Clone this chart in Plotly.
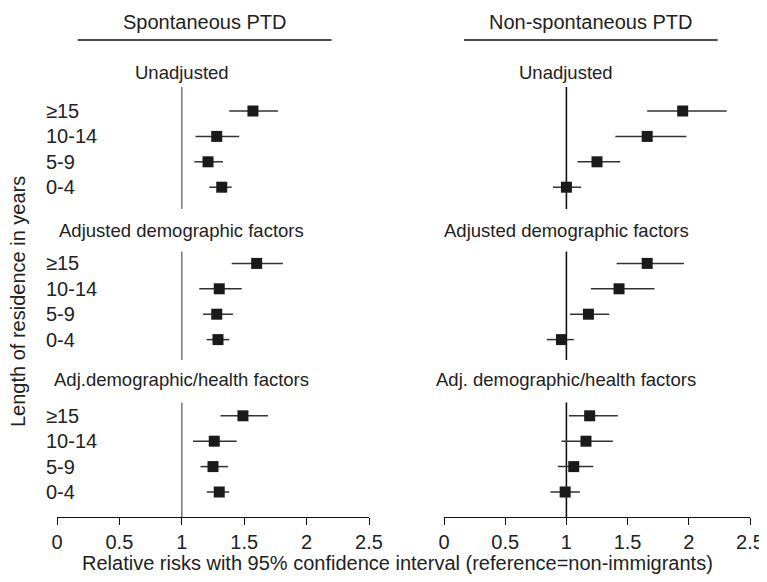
import plotly.graph_objects as go

# ---------------- data ----------------
row_labels = ["≥15", "10-14", "5-9", "0-4"]
column_titles = ["Spontaneous PTD", "Non-spontaneous PTD"]
panel_titles_left = ["Unadjusted", "Adjusted demographic factors", "Adj.demographic/health factors"]
panel_titles_right = ["Unadjusted", "Adjusted demographic factors", "Adj. demographic/health factors"]

spont_unadj_rr = [1.57, 1.28, 1.21, 1.32]
spont_unadj_lo = [1.38, 1.11, 1.10, 1.22]
spont_unadj_hi = [1.77, 1.46, 1.33, 1.40]

spont_demo_rr = [1.60, 1.30, 1.28, 1.29]
spont_demo_lo = [1.40, 1.14, 1.17, 1.20]
spont_demo_hi = [1.81, 1.48, 1.41, 1.38]

spont_health_rr = [1.49, 1.26, 1.25, 1.30]
spont_health_lo = [1.31, 1.09, 1.15, 1.20]
spont_health_hi = [1.69, 1.44, 1.37, 1.38]

nons_unadj_rr = [1.95, 1.66, 1.25, 1.00]
nons_unadj_lo = [1.66, 1.40, 1.09, 0.89]
nons_unadj_hi = [2.31, 1.98, 1.44, 1.12]

nons_demo_rr = [1.66, 1.43, 1.18, 0.96]
nons_demo_lo = [1.41, 1.20, 1.03, 0.84]
nons_demo_hi = [1.96, 1.72, 1.35, 1.06]

nons_health_rr = [1.19, 1.16, 1.06, 0.99]
nons_health_lo = [1.02, 0.96, 0.93, 0.87]
nons_health_hi = [1.42, 1.38, 1.22, 1.11]

x_ticks = [0, 0.5, 1, 1.5, 2, 2.5]
x_tick_text = ["0", "0.5", "1", "1.5", "2", "2.5"]
reference_value = 1

# ---------------- layout constants (screen pixel units) ----------------
OFF = 8                      # page body margin
W, H = 767 - OFF, 582 - OFF
PLOT_TOP = OFF
PLOT_BOTTOM = 517            # screen y of the x axis line
PLOT_H = PLOT_BOTTOM - PLOT_TOP
FONT = "Liberation Sans, Arial, Helvetica, sans-serif"
TXT = "#222222"
FS = 20
FS_PANEL = 18.5

def px(sx):
    return (sx - OFF) / W

def py(sy):
    return (PLOT_BOTTOM - sy) / PLOT_H

ROW0 = 111.0
ROW_STEP = 25.4
GROUP_ROWS = 6

def row_y(g, r):
    return ROW0 + ROW_STEP * (GROUP_ROWS * g + r)

left = {"groups": [(spont_unadj_rr, spont_unadj_lo, spont_unadj_hi),
                   (spont_demo_rr, spont_demo_lo, spont_demo_hi),
                   (spont_health_rr, spont_health_lo, spont_health_hi)],
        "xref": "x", "titles": panel_titles_left, "refcolor": "#808080"}
right = {"groups": [(nons_unadj_rr, nons_unadj_lo, nons_unadj_hi),
                    (nons_demo_rr, nons_demo_lo, nons_demo_hi),
                    (nons_health_rr, nons_health_lo, nons_health_hi)],
         "xref": "x2", "titles": panel_titles_right, "refcolor": "#111111"}

panel_title_y = [72, 230, 379]
ref_top = [87, 251.5, 402.5]
ref_bottom = [209, 360, PLOT_BOTTOM]

fig = go.Figure()
shapes = []
annotations = []

for col in (left, right):
    for g, (rr, lo, hi) in enumerate(col["groups"]):
        ys = [row_y(g, r) for r in range(len(rr))]
        fig.add_trace(go.Scatter(
            x=rr, y=ys, mode="markers", xaxis=col["xref"], yaxis="y",
            marker=dict(symbol="square", size=11, color="#1a1a1a", line=dict(width=0)),
            error_x=dict(type="data", symmetric=False,
                         array=[h - v for h, v in zip(hi, rr)],
                         arrayminus=[v - l for v, l in zip(rr, lo)],
                         color="#333333", thickness=1.5, width=0),
            showlegend=False, hoverinfo="skip"))
        shapes.append(dict(type="line", xref=col["xref"], yref="y",
                           x0=reference_value, x1=reference_value,
                           y0=ref_top[g], y1=ref_bottom[g],
                           line=dict(color=col["refcolor"], width=1.6), layer="below"))
        annotations.append(dict(text=col["titles"][g], xref=col["xref"], yref="paper",
                                x=reference_value, y=py(panel_title_y[g]), showarrow=False,
                                xanchor="center", yanchor="middle",
                                font=dict(family=FONT, size=FS_PANEL, color=TXT)))

# row labels (left side only)
for g in range(3):
    for r, lab in enumerate(row_labels):
        annotations.append(dict(text=lab, xref="paper", yref="paper", x=px(44), y=py(row_y(g, r)),
                                showarrow=False, xanchor="left", yanchor="middle",
                                font=dict(family=FONT, size=FS, color=TXT)))

# column titles with underline
col_specs = [("x", 1.18, 0.166, 2.2), ("x2", 1.197, 0.163, 2.236)]
for (xr, cx, ux0, ux1), t in zip(col_specs, column_titles):
    annotations.append(dict(text=t, xref=xr, yref="paper", x=cx, y=py(22), showarrow=False,
                            xanchor="center", yanchor="middle",
                            font=dict(family=FONT, size=FS, color=TXT)))
    shapes.append(dict(type="line", xref=xr, yref="y", x0=ux0, x1=ux1, y0=40, y1=40,
                       line=dict(color="#111111", width=1.5)))

# axis titles
annotations.append(dict(text="Relative risks with 95% confidence interval (reference=non-immigrants)",
                        xref="paper", yref="paper", x=px(397), y=py(563), showarrow=False,
                        xanchor="center", yanchor="middle",
                        font=dict(family=FONT, size=FS, color=TXT)))
annotations.append(dict(text="Length of residence in years", textangle=-90,
                        xref="paper", yref="paper", x=px(18), y=py(302), showarrow=False,
                        xanchor="center", yanchor="middle",
                        font=dict(family=FONT, size=FS, color=TXT)))

xax = dict(range=[0, 2.5], tickvals=x_ticks, ticktext=x_tick_text, showgrid=False,
           zeroline=False, showline=True, linecolor="#111111", linewidth=1.3,
           ticks="outside", ticklen=7, tickwidth=1.3, tickcolor="#111111",
           tickfont=dict(family=FONT, size=FS, color=TXT), anchor="y", fixedrange=True)

fig.update_layout(
    width=W, height=H,
    margin=dict(l=0, r=0, t=0, b=H - (PLOT_BOTTOM - OFF), autoexpand=False),
    paper_bgcolor="white", plot_bgcolor="white",
    xaxis=dict(xax, domain=[px(57), px(369)]),
    xaxis2=dict(xax, domain=[px(444), px(750)]),
    yaxis=dict(range=[PLOT_BOTTOM, PLOT_TOP], visible=False, fixedrange=True, domain=[0, 1]),
    shapes=shapes, annotations=annotations,
)

fig.write_html("out.html")
